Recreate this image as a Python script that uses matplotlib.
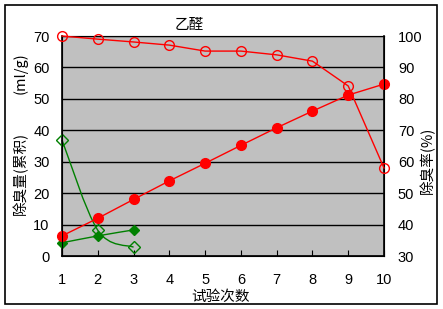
import numpy as np
import matplotlib
matplotlib.use('Agg')
import matplotlib.pyplot as plt
from matplotlib.path import Path
from matplotlib.patches import PathPatch, Rectangle

plt.rcParams['font.family'] = ['Liberation Sans', 'Noto Sans CJK SC']

# data
runs = np.arange(1, 11)
rate = [100, 99.0, 98.1, 97.1, 95.2, 95.2, 94.0, 92.0, 84.1, 58.0]      # 除臭率 (%), right axis
cumul = [6.4, 12.0, 18.0, 23.9, 29.5, 35.2, 40.8, 46.1, 51.2, 54.7]     # 除臭量(累积), left axis
g_runs = [1, 2, 3]
g_open = [36.9, 8.2, 2.8]
g_fill = [4.2, 6.4, 8.3]


def smooth_path(xs, ys):
    """catmull-rom like smoothing (excel style) as bezier path"""
    pts = np.column_stack([xs, ys]).astype(float)
    verts = [pts[0]]
    codes = [Path.MOVETO]
    n = len(pts)
    for i in range(n - 1):
        p0 = pts[i - 1] if i > 0 else pts[i]
        p1 = pts[i]
        p2 = pts[i + 1]
        p3 = pts[i + 2] if i + 2 < n else pts[i + 1]
        c1 = p1 + (p2 - p0) / 6.0
        c2 = p2 - (p3 - p1) / 6.0
        verts += [c1, c2, p2]
        codes += [Path.CURVE4] * 3
    return Path(verts, codes)


W, H = 443, 309
fig = plt.figure(figsize=(W / 100, H / 100), dpi=100)
fig.patches.append(Rectangle((5 / W, 5 / H), 432 / W, 299 / H, transform=fig.transFigure,
                             fill=False, edgecolor='black', linewidth=1.2))

ax = fig.add_axes([62 / W, 53 / H, 322 / W, 220 / H])
ax.set_facecolor('#C0C0C0')
ax.set_xlim(1, 10)
ax.set_ylim(0, 70)
ax.set_yticks(range(0, 71, 10))
ax.set_xticks(runs)
ax.grid(axis='y', color='black', linewidth=1.0)
ax.set_axisbelow(True)
ax.tick_params(axis='x', direction='in', length=4, pad=12, labelsize=10.5)
ax.tick_params(axis='y', length=0, pad=9, labelsize=10.5)
for s in ['left', 'bottom', 'right']:
    ax.spines[s].set_linewidth(1.2)
ax.spines['top'].set_color('#808080')

ax2 = ax.twinx()
ax2.set_ylim(30, 100)
ax2.set_yticks(range(30, 101, 10))
ax2.tick_params(axis='y', length=0, pad=10, labelsize=10.5)

# green series (smoothed lines)
ax.add_patch(PathPatch(smooth_path(g_runs, g_open), fill=False, edgecolor='green', linewidth=1, clip_on=False))
ax.add_patch(PathPatch(smooth_path(g_runs, g_fill), fill=False, edgecolor='green', linewidth=1, clip_on=False))
ax.plot(g_runs, g_open, linestyle='none', marker='D', markersize=6, markerfacecolor='none',
        markeredgecolor='green', clip_on=False, zorder=5)
ax.plot(g_runs, g_fill, linestyle='none', marker='D', markersize=5.5, color='green', clip_on=False, zorder=5)

# red series
ax.plot(runs, cumul, '-', color='red', linewidth=1, marker='o', markersize=7,
        clip_on=False, zorder=6)
ax2.plot(runs, rate, '-', color='red', linewidth=1, marker='o', markersize=7,
         markerfacecolor='none', markeredgecolor='red', clip_on=False, zorder=6)

fig.text(189 / W, 1 - 25 / H, '乙醛', ha='center', va='center', fontsize=10.5,
         family=['Noto Sans CJK SC'])
fig.text(221 / W, 1 - 297 / H, '试验次数', ha='center', va='center', fontsize=10.5,
         family=['Noto Sans CJK SC'])
fig.text(20 / W, 1 - 173 / H, '除臭量(累积)', rotation=90, ha='center', va='center', fontsize=10.5,
         family=['Noto Sans CJK SC'])
fig.text(20 / W, 1 - 73 / H, '(ml/g)', rotation=90, ha='center', va='center', fontsize=10.5,
         family=['Noto Sans CJK SC'])
fig.text(427 / W, 1 - 160 / H, '除臭率(%)', rotation=90, ha='center', va='center', fontsize=10.5,
         family=['Noto Sans CJK SC'])

fig.savefig('out.png', dpi=100)
